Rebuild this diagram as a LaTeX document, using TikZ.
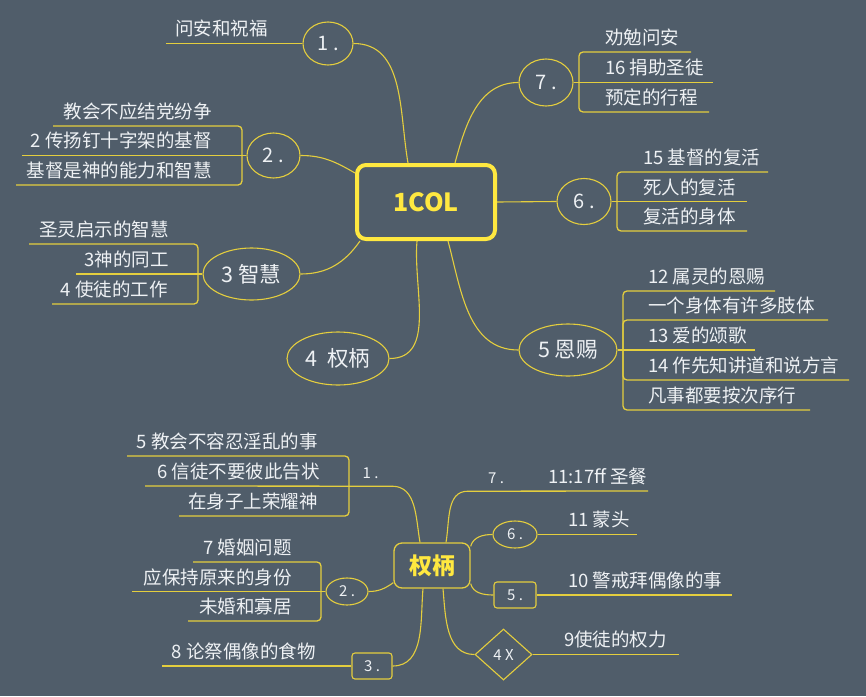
\documentclass[tikz,border=0pt]{standalone}
\usepackage{fontspec}
\setmainfont{Noto Sans CJK SC}
\usetikzlibrary{shapes.geometric,calc}
\definecolor{bg}{RGB}{80,93,106}
\definecolor{ln}{RGB}{228,206,62}
\definecolor{tx}{RGB}{238,241,244}
\definecolor{hl}{RGB}{255,232,64}
\begin{document}
\begin{tikzpicture}[x=1pt,y=-1pt,
  leafR/.style={anchor=base east,inner sep=0pt,text=tx,font=\fontsize{18.5}{21}\selectfont},
  leafL/.style={anchor=base west,inner sep=0pt,text=tx,font=\fontsize{18.5}{21}\selectfont},
  ul/.style={draw=ln,line width=1.3pt,rounded corners=4pt},
  conn/.style={draw=ln,line width=1.1pt},
  ell/.style={ellipse,draw=ln,line width=1.1pt,inner sep=0pt,text=tx},
  small/.style={text=tx,inner sep=0pt,font=\fontsize{15}{17}\selectfont},
  rbox/.style={draw=ln,line width=1.1pt,rounded corners=3pt,inner sep=0pt,text=tx,font=\fontsize{15}{17}\selectfont}
]
\fill[bg] (0,0) rectangle (866,696);
\useasboundingbox (0,0) rectangle (866,696);

% ---------- top map ----------
\node[draw=hl,line width=4pt,rounded corners=9pt,minimum width=138pt,minimum height=74pt,inner sep=0pt,text=hl,font=\bfseries\fontsize{25}{28}\selectfont] (c) at (426,202) {1COL};

\node[ell,minimum width=50pt,minimum height=43pt,font=\fontsize{20}{22}\selectfont] (n1) at (328,43.5) {1 .};
\node[ell,minimum width=53pt,minimum height=45pt,font=\fontsize{20}{22}\selectfont] (n2) at (273.5,155.5) {2 .};
\node[ell,minimum width=97pt,minimum height=52pt,font=\fontsize{21.5}{24}\selectfont] (n3) at (251.5,274) {3 智慧};
\node[ell,minimum width=102pt,minimum height=53pt,font=\fontsize{21.5}{24}\selectfont] (n4) at (338,358.5) {4 \ 权柄};
\node[ell,minimum width=98pt,minimum height=52pt,font=\fontsize{21.5}{24}\selectfont] (n5) at (568,350) {5 恩赐};
\node[ell,minimum width=54pt,minimum height=46pt,font=\fontsize{20}{22}\selectfont] (n6) at (584,201.5) {6 .};
\node[ell,minimum width=54pt,minimum height=47pt,font=\fontsize{20}{22}\selectfont] (n7) at (546,82.5) {7 .};

% connectors from centre
\draw[conn] ($(c.north)+(-18,0)$) to[out=100,in=0] (n1.east);
\draw[conn] ($(c.north west)+(0,10)$) to[out=150,in=0] (n2.east);
\draw[conn] ($(c.south west)+(5,0)$) to[out=235,in=0] (n3.east);
\draw[conn] ($(c.south)+(-9,0)$) to[out=265,in=0] (n4.east);
\draw[conn] ($(c.south)+(22,0)$) to[out=-75,in=180] (n5.west);
\draw[conn] (c.east) -- (n6.west);
\draw[conn] ($(c.north)+(29,0)$) to[out=75,in=180] (n7.west);

% branch 1
\draw[ul] (n1.west) -- (166,43.5);
\node[leafR] (l11) at (268,35) {问安和祝福};

% branch 2
\draw[ul] (n2.west) -- (22,155.5);
\draw[ul] (242,155.5) |- (53,126);
\draw[ul] (242,155.5) |- (16,185);
\node[leafR] (l21) at (212,118) {教会不应结党纷争};
\node[leafR] (l22) at (212,147) {2 传扬钉十字架的基督};
\node[leafR] (l23) at (212,177) {基督是神的能力和智慧};

% branch 3
\draw[ul] (n3.west) -- (76,274);
\draw[ul] (198,274) |- (29,244);
\draw[ul] (198,274) |- (52,304);
\node[leafR] (l31) at (169,236) {圣灵启示的智慧};
\node[leafR] (l32) at (169,266) {3神的同工};
\node[leafR] (l33) at (168,296) {4 使徒的工作};

% branch 7
\draw[ul] (n7.east) -- (713,82.5);
\draw[ul] (579,82.5) |- (691,52);
\draw[ul] (579,82.5) |- (709,112);
\node[leafL] (l71) at (605,44) {劝勉问安};
\node[leafL] (l72) at (605,74) {16 捐助圣徒};
\node[leafL] (l73) at (605,104) {预定的行程};

% branch 6
\draw[ul] (n6.east) -- (747,201.5);
\draw[ul] (617,201.5) |- (768,172);
\draw[ul] (617,201.5) |- (747,231);
\node[leafL] (l61) at (643,164) {15 基督的复活};
\node[leafL] (l62) at (643,194) {死人的复活};
\node[leafL] (l63) at (643,223) {复活的身体};

% branch 5
\draw[ul] (n5.east) -- (755,350);
\draw[ul] (623,350) |- (775,291);
\draw[ul] (623,350) |- (828,320);
\draw[ul] (623,350) |- (849,380);
\draw[ul] (623,350) |- (810,410);
\node[leafL] (l51) at (648,283) {12 属灵的恩赐};
\node[leafL] (l52) at (648,312) {一个身体有许多肢体};
\node[leafL] (l53) at (648,342) {13 爱的颂歌};
\node[leafL] (l54) at (648,372) {14 作先知讲道和说方言};
\node[leafL] (l55) at (648,402) {凡事都要按次序行};

% ---------- bottom map ----------
\node[draw=ln,line width=1.3pt,rounded corners=8pt,minimum width=76pt,minimum height=45pt,inner sep=0pt,text=hl,font=\bfseries\fontsize{23}{26}\selectfont] (b) at (432,565.5) {权柄};

\node[small,minimum width=43pt,minimum height=26pt] (b1) at (370.5,473) {1 .};
\node[ell,minimum width=42pt,minimum height=27pt,font=\fontsize{15}{17}\selectfont] (b2) at (347,591.5) {2 .};
\node[rbox,minimum width=40pt,minimum height=26pt] (b3) at (372,666) {3 .};
\node[small,minimum width=56pt,minimum height=26pt] (b7) at (496,478) {7 .};
\node[ell,minimum width=44pt,minimum height=27pt,font=\fontsize{15}{17}\selectfont] (b6) at (515,534.5) {6 .};
\node[rbox,minimum width=42pt,minimum height=26pt] (b5) at (515,595) {5 .};
\node[diamond,draw=ln,line width=1.1pt,inner sep=0pt,minimum width=57pt,minimum height=51pt,text=tx,font=\fontsize{15}{17}\selectfont] (b4) at (503.5,654.5) {4 X};

\draw[conn] ($(b.north)+(-12,0)$) to[out=100,in=0] (b1.south east);
\draw[conn] ($(b.south west)+(0,-6)$) to[out=215,in=0] (b2.east);
\draw[conn] ($(b.south)+(-9,0)$) to[out=-95,in=0] (b3.east);
\draw[conn] ($(b.north)+(14,0)$) to[out=80,in=180] (b7.south west);
\draw[conn] ($(b.north east)+(0,4)$) to[out=75,in=180] (b6.west);
\draw[conn] ($(b.south east)+(0,-5)$) to[out=-75,in=180] (b5.west);
\draw[conn] ($(b.south)+(11,0)$) to[out=-85,in=180] (b4.west);

% bottom branch 1
\draw[ul] (b1.south east) -- (145,486);
\draw[ul] (349,486) |- (127,456);
\draw[ul] (349,486) |- (179,516);
\node[leafR] (m11) at (318,448) {5 教会不容忍淫乱的事};
\node[leafR] (m12) at (320,478) {6 信徒不要彼此告状};
\node[leafR] (m13) at (318,508) {在身子上荣耀神};

% bottom branch 2
\draw[ul] (b2.west) -- (132,591.5);
\draw[ul] (321,591.5) |- (193,562);
\draw[ul] (321,591.5) |- (188,621);
\node[leafR] (m21) at (292,554) {7 婚姻问题};
\node[leafR] (m22) at (292,584) {应保持原来的身份};
\node[leafR] (m23) at (292,613) {未婚和寡居};

% bottom branch 3
\draw[ul] (b3.west) -- (162,666);
\node[leafR] (m31) at (316,658) {8 论祭偶像的食物};

% right side
\draw[ul] (b7.south west) -- (648,491);
\node[leafL] (m71) at (548,483) {11:17ff 圣餐};
\draw[ul] (b6.east) -- (637,534.5);
\node[leafL] (m61) at (568,526) {11 蒙头};
\draw[ul] (b5.east) -- (732,595);
\node[leafL] (m51) at (568,587) {10 警戒拜偶像的事};
\draw[ul] (b4.east) -- (679,654.5);
\node[leafL] (m41) at (564,646) {9使徒的权力};
\end{tikzpicture}
\end{document}
